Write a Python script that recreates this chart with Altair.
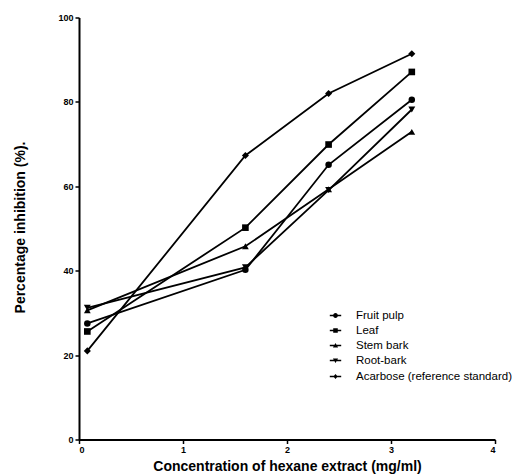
import altair as alt
import pandas as pd

# ---- data ----
concentration = [0.08, 1.6, 2.4, 3.2]
series_names = ["Fruit pulp", "Leaf", "Stem bark", "Root-bark", "Acarbose (reference standard)"]
fruit_pulp = [27.5, 40.2, 65.1, 80.5]
leaf = [25.6, 50.2, 69.9, 87.1]
stem_bark = [30.6, 45.8, 59.3, 72.9]
root_bark = [31.2, 40.8, 59.1, 78.2]
acarbose = [21.0, 67.3, 82.0, 91.4]
x_ticks = [0, 1, 2, 3, 4]
y_ticks = [0, 20, 40, 60, 80, 100]

values = [fruit_pulp, leaf, stem_bark, root_bark, acarbose]
rows = []
for name, vals in zip(series_names, values):
    for xv, yv in zip(concentration, vals):
        rows.append({"series": name, "x": xv, "y": yv})
df = pd.DataFrame(rows)

FONT = "Liberation Sans"

plot_shapes = ["circle", "square", "triangle-up", "triangle-down", "diamond"]
plot_sizes = [42, 50, 48, 48, 34]
BAR = "M-1,-0.13H1V0.13H-1Z"
legend_shapes = [
    BAR + "M0.42,0A0.42,0.42,0,1,1,-0.42,0A0.42,0.42,0,1,1,0.42,0Z",
    BAR + "M-0.4,-0.4H0.4V0.4H-0.4Z",
    BAR + "M0,-0.45L0.45,0.35H-0.45Z",
    BAR + "M0,0.45L-0.45,-0.35H0.45Z",
    BAR + "M0,-0.46L0.38,0L0,0.46L-0.38,0Z",
]

x_enc = alt.X(
    "x:Q",
    scale=alt.Scale(domain=[0, 4], nice=False, zero=False),
    axis=alt.Axis(
        values=x_ticks,
        format="d",
        title="Concentration of hexane extract (mg/ml)",
        titleFont=FONT,
        titleFontSize=14,
        titleFontWeight="bold",
        titleBaseline="alphabetic",
        titleY=30.5,
        labelPadding=2,
    ),
)
y_enc = alt.Y(
    "y:Q",
    scale=alt.Scale(domain=[0, 100], nice=False),
    axis=alt.Axis(
        values=y_ticks,
        format="d",
        title="Percentage inhibition (%).",
        titleFont=FONT,
        titleFontSize=14,
        titleFontWeight="bold",
        titleAngle=-90,
        titleAlign="center",
        titleBaseline="alphabetic",
        titleX=-55,
        titleY=209.5,
        labelPadding=2,
    ),
)

lines = alt.Chart(df).mark_line(color="black", strokeWidth=1.8).encode(
    x=x_enc,
    y=y_enc,
    detail="series:N",
)

points = alt.Chart(df).mark_point(filled=True, color="black", opacity=1).encode(
    x="x:Q",
    y="y:Q",
    shape=alt.Shape("series:N", scale=alt.Scale(domain=series_names, range=plot_shapes), legend=None),
    size=alt.Size("series:N", scale=alt.Scale(domain=series_names, range=plot_sizes), legend=None),
)

legend_layer = alt.Chart(df).mark_point(filled=True, color="black", opacity=0).encode(
    x="x:Q",
    y="y:Q",
    shape=alt.Shape(
        "series:N",
        scale=alt.Scale(domain=series_names, range=legend_shapes),
        title=None,
        legend=alt.Legend(
            orient="none",
            legendX=250,
            legendY=291.5,
            padding=0,
            symbolSize=130,
            symbolOpacity=1,
            symbolFillColor="black",
            labelFont=FONT,
            labelFontSize=11.5,
            labelColor="black",
            labelOffset=14,
            labelLimit=300,
            rowPadding=3.0,
        ),
    ),
)

chart = (
    alt.layer(lines, points, legend_layer)
    .resolve_scale(shape="independent", size="independent")
    .properties(
        width=416,
        height=422,
        padding={"left": 79, "top": 17.5, "right": 32, "bottom": 34.5},
        autosize="none",
        background="white",
    )
    .configure_view(strokeWidth=0)
    .configure_axis(
        grid=False,
        domainColor="black",
        domainWidth=2,
        tickColor="black",
        tickWidth=1.5,
        tickSize=4,
        labelFont=FONT,
        labelFontSize=9,
        labelFontWeight="bold",
        labelColor="black",
        titleColor="black",
    )
)

chart.save("out.html", embed_options={"renderer": "svg", "actions": False})
